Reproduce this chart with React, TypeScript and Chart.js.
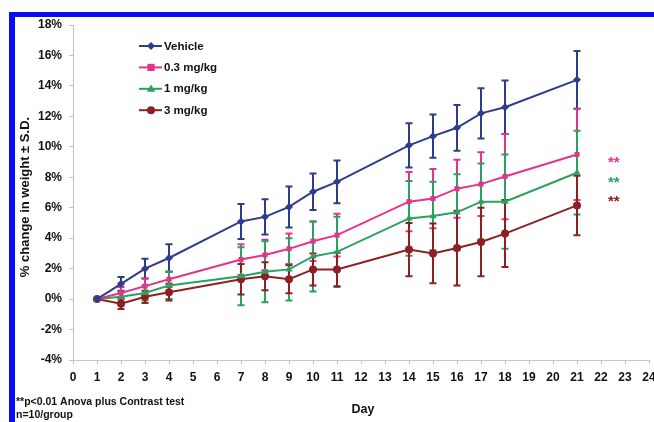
import React, { useEffect, useRef } from 'react';
import { Chart, registerables } from 'chart.js';
Chart.register(...registerables);

const days = [1, 2, 3, 4, 7, 8, 9, 10, 11, 14, 15, 16, 17, 18, 21];
const vehicle = [0, 1.0, 2.0, 2.7, 5.1, 5.4, 6.05, 7.05, 7.7, 10.1, 10.7, 11.25, 12.2, 12.6, 14.4];
const vehicleSD = [0, 0.45, 0.65, 0.9, 1.15, 1.15, 1.35, 1.2, 1.4, 1.45, 1.42, 1.5, 1.65, 1.75, 1.9];
const dose03 = [0, 0.4, 0.85, 1.3, 2.6, 2.9, 3.3, 3.8, 4.2, 6.4, 6.6, 7.25, 7.55, 8.05, 9.5];
const dose03SD = [0, 0.4, 0.5, 0.5, 1.0, 1.0, 1.0, 1.3, 1.4, 1.95, 1.95, 1.9, 2.1, 2.8, 3.0];
const dose1 = [0, 0.15, 0.4, 0.9, 1.5, 1.8, 1.95, 2.8, 3.1, 5.3, 5.45, 5.7, 6.4, 6.4, 8.3];
const dose1SD = [0, 0.3, 0.5, 0.9, 1.9, 2.0, 2.05, 2.3, 2.3, 2.45, 2.25, 2.5, 2.5, 3.1, 2.75];
const dose3 = [0, -0.3, 0.15, 0.45, 1.3, 1.5, 1.3, 1.95, 1.95, 3.25, 3.0, 3.35, 3.75, 4.3, 6.15];
const dose3SD = [0, 0.35, 0.4, 0.55, 1.0, 0.92, 0.92, 1.05, 1.1, 1.75, 1.96, 2.45, 2.25, 2.2, 1.95];

const seriesNames = ['Vehicle', '0.3 mg/kg', '1 mg/kg', '3 mg/kg'];
const seriesValues = [vehicle, dose03, dose1, dose3];
const seriesSD = [vehicleSD, dose03SD, dose1SD, dose3SD];
const significance = ['', '**', '**', '**'];

const xTitle = 'Day';
const yTitle = '% change in weight \u00b1 S.D.';
const footnotes = ['**p<0.01 Anova plus Contrast test', 'n=10/group'];

const colors = ['#2E3D8A', '#E5338B', '#28A35E', '#8E1F22'];
const pointStyles = ['rectRot', 'rect', 'triangle', 'circle'];
const pointRadii = [4, 3.6, 4.2, 4];
const FONT = '"Liberation Sans", Arial, sans-serif';

function drawMarker(ctx: CanvasRenderingContext2D, style: string, x: number, y: number, r: number, color: string) {
  ctx.save();
  ctx.fillStyle = color;
  ctx.beginPath();
  if (style === 'rectRot') {
    ctx.moveTo(x, y - r);
    ctx.lineTo(x + r, y);
    ctx.lineTo(x, y + r);
    ctx.lineTo(x - r, y);
  } else if (style === 'rect') {
    ctx.rect(x - r, y - r, 2 * r, 2 * r);
  } else if (style === 'triangle') {
    ctx.moveTo(x, y - r);
    ctx.lineTo(x + r, y + r * 0.7);
    ctx.lineTo(x - r, y + r * 0.7);
  } else {
    ctx.arc(x, y, r, 0, Math.PI * 2);
  }
  ctx.closePath();
  ctx.fill();
  ctx.restore();
}

const errorBarPlugin = {
  id: 'errorBars',
  beforeDatasetsDraw(chart: any) {
    const { ctx, scales } = chart;
    const xs = scales.x;
    const ys = scales.y;
    ctx.save();
    seriesValues.forEach((vals, i) => {
      ctx.strokeStyle = colors[i];
      ctx.lineWidth = 2;
      vals.forEach((v, j) => {
        const sd = seriesSD[i][j];
        if (!sd) return;
        const x = xs.getPixelForValue(days[j]);
        const yt = ys.getPixelForValue(v + sd);
        const yb = ys.getPixelForValue(v - sd);
        ctx.beginPath();
        ctx.moveTo(x, yt);
        ctx.lineTo(x, yb);
        ctx.moveTo(x - 3.5, yt);
        ctx.lineTo(x + 3.5, yt);
        ctx.moveTo(x - 3.5, yb);
        ctx.lineTo(x + 3.5, yb);
        ctx.stroke();
      });
    });
    ctx.restore();
  },
};

const textPlugin = {
  id: 'texts',
  afterDraw(chart: any) {
    const { ctx, scales } = chart;
    const xs = scales.x;
    ctx.save();
    // legend
    ctx.font = `bold 11.5px ${FONT}`;
    ctx.textBaseline = 'middle';
    ctx.textAlign = 'left';
    seriesNames.forEach((name, i) => {
      const y = 46 + i * 21.4;
      ctx.strokeStyle = colors[i];
      ctx.lineWidth = 2;
      ctx.beginPath();
      ctx.moveTo(139, y);
      ctx.lineTo(162, y);
      ctx.stroke();
      drawMarker(ctx, pointStyles[i], 151, y, pointRadii[i], colors[i]);
      ctx.fillStyle = '#111';
      ctx.fillText(name, 164, y + 0.5);
    });
    // significance stars
    ctx.font = `bold 15px ${FONT}`;
    ctx.textBaseline = 'alphabetic';
    ctx.textAlign = 'left';
    const lastX = xs.getPixelForValue(days[days.length - 1]);
    const starY = [0, 158, 178, 197];
    seriesValues.forEach((vals, i) => {
      if (!significance[i]) return;
      ctx.fillStyle = colors[i];
      ctx.fillText(significance[i], lastX + 31, starY[i] + 9);
    });
    // x title
    ctx.fillStyle = '#111';
    ctx.font = `bold 12.5px ${FONT}`;
    ctx.textAlign = 'center';
    ctx.textBaseline = 'middle';
    ctx.fillText(xTitle, 363, 410);
    // y title
    ctx.save();
    ctx.translate(25, 197);
    ctx.rotate(-Math.PI / 2);
    ctx.font = `bold 13px ${FONT}`;
    ctx.fillText(yTitle, 0, 0);
    ctx.restore();
    // footnotes
    ctx.font = `bold 10.5px ${FONT}`;
    ctx.textAlign = 'left';
    ctx.fillText(footnotes[0], 16, 402);
    ctx.fillText(footnotes[1], 16, 415.5);
    ctx.restore();
  },
};

export default function App() {
  const ref = useRef<HTMLCanvasElement | null>(null);
  useEffect(() => {
    if (!ref.current) return;
    const tickFont = { family: FONT, size: 12, weight: 'bold' as const };
    const chart = new Chart(ref.current, {
      type: 'line',
      data: {
        datasets: seriesValues.map((vals, i) => ({
          label: seriesNames[i],
          data: days.map((d, j) => ({ x: d, y: vals[j] })),
          borderColor: colors[i],
          backgroundColor: colors[i],
          borderWidth: 2,
          pointStyle: pointStyles[i] as any,
          pointRadius: pointRadii[i],
          pointBorderWidth: 0,
          tension: 0,
        })),
      },
      options: {
        responsive: false,
        animation: false,
        layout: { padding: { left: 0, right: 31, top: 25, bottom: 0 } },
        plugins: { legend: { display: false }, tooltip: { enabled: false } },
        scales: {
          x: {
            type: 'linear',
            min: 0,
            max: 24,
            ticks: { stepSize: 1, font: tickFont, color: '#111', padding: 6, autoSkip: false, maxRotation: 0 },
            grid: { drawOnChartArea: false, drawTicks: true, tickLength: 4, color: '#c4c4c4' },
            border: { color: '#c4c4c4' },
            afterFit: (s: any) => { s.height = 62; },
          },
          y: {
            type: 'linear',
            min: -4,
            max: 18,
            ticks: { stepSize: 2, font: tickFont, color: '#111', padding: 7, callback: (v: any) => v + '%' },
            grid: { drawOnChartArea: false, drawTicks: true, tickLength: 4, color: '#c4c4c4' },
            border: { color: '#c4c4c4' },
            afterFit: (s: any) => { s.width = 73; },
          },
        },
      },
      plugins: [errorBarPlugin, textPlugin],
    });
    return () => chart.destroy();
  }, []);
  return (
    <div style={{ position: 'fixed', left: 0, top: 0, width: 654, height: 422, overflow: 'hidden', background: '#fff' }}>
      <canvas ref={ref} width={680} height={422} style={{ position: 'absolute', left: 0, top: 0 }} />
      <div style={{ position: 'absolute', left: 9, top: 12, width: 645, height: 5, background: '#0A0AF5' }} />
      <div style={{ position: 'absolute', left: 9, top: 12, width: 6, height: 410, background: '#0A0AF5' }} />
    </div>
  );
}
